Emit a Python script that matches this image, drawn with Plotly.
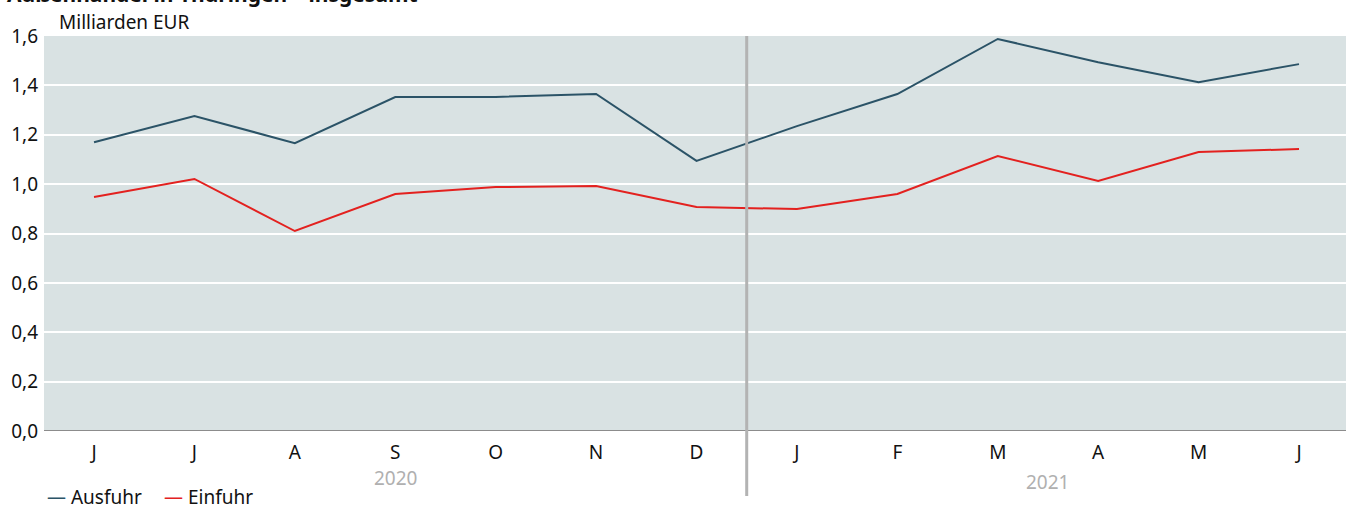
import plotly.graph_objects as go

months = ["J", "J", "A", "S", "O", "N", "D", "J", "F", "M", "A", "M", "J"]
years = ["2020", "2021"]
ausfuhr = [1.17, 1.276, 1.166, 1.353, 1.353, 1.365, 1.094, 1.235, 1.365, 1.588, 1.494, 1.413, 1.486]
einfuhr = [0.948, 1.021, 0.81, 0.96, 0.988, 0.992, 0.907, 0.899, 0.96, 1.114, 1.013, 1.13, 1.142]
yticks = [0.0, 0.2, 0.4, 0.6, 0.8, 1.0, 1.2, 1.4, 1.6]

C_AUS = "#2b5367"
C_EIN = "#e3211f"
FONT = "Noto Sans"
FS = 19

W, H = 1346, 506
L, R, T, B = 44, 0, 36, 75
PW, PH = W - L - R, H - T - B

x = list(range(len(months)))
fig = go.Figure()
fig.add_trace(go.Scatter(x=x, y=ausfuhr, mode="lines", name="Ausfuhr",
                         line=dict(color=C_AUS, width=2), showlegend=False))
fig.add_trace(go.Scatter(x=x, y=einfuhr, mode="lines", name="Einfuhr",
                         line=dict(color=C_EIN, width=2), showlegend=False))

fig.update_layout(
    width=W, height=H,
    margin=dict(l=L, r=R, t=T, b=B, autoexpand=False),
    paper_bgcolor="white", plot_bgcolor="#d9e2e3",
    font=dict(family=FONT, size=FS, color="#111111"),
    xaxis=dict(range=[-0.498, 12.468], tickmode="array", tickvals=x, ticktext=months,
               showgrid=False, zeroline=False, showline=False, ticks="",
               ticklabelstandoff=8,
               tickfont=dict(size=FS, color="#111111"), fixedrange=True, automargin=False),
    yaxis=dict(range=[0, 1.6], tickmode="array", tickvals=yticks,
               ticktext=[f"{v:.1f}".replace(".", ",") for v in yticks],
               showgrid=True, gridcolor="white", gridwidth=2,
               zeroline=False, showline=False, ticks="", ticklabelstandoff=5,
               tickfont=dict(size=FS, color="#111111"), fixedrange=True, automargin=False),
)

def px(xp):
    return (xp - L) / PW

def py(yp):
    return (H - B - yp) / PH

# bottom axis line
fig.add_shape(type="line", xref="paper", yref="y", x0=0, x1=1, y0=0, y1=0,
              line=dict(color="#8c8c8c", width=2))
# year separator
fig.add_shape(type="line", xref="x", yref="paper", x0=6.5, x1=6.5, y0=py(496), y1=1,
              line=dict(color="#b3b3b3", width=3))

# year labels
fig.add_annotation(x=3, y=py(463), xref="x", yref="paper", text=years[0], showarrow=False,
                   font=dict(size=FS, color="#b0b0b0"), yanchor="top")
fig.add_annotation(x=9.5, y=py(467), xref="x", yref="paper", text=years[1], showarrow=False,
                   font=dict(size=FS, color="#b0b0b0"), yanchor="top")

# unit label
fig.add_annotation(x=px(57), y=py(22), xref="paper", yref="paper", text="Milliarden EUR",
                   showarrow=False, xanchor="left", yanchor="middle",
                   font=dict(size=FS, color="#111111"))

# title (cut off at top of the page)
fig.add_annotation(x=px(5), y=py(10), xref="paper", yref="paper",
                   text="<b>Außenhandel in Thüringen – insgesamt</b>", showarrow=False,
                   xanchor="left", yanchor="bottom",
                   font=dict(size=21, color="#111111"))

# legend as annotations
fig.add_annotation(x=px(45), y=py(497), xref="paper", yref="paper",
                   text=f"<span style='color:{C_AUS}'>—</span> Ausfuhr", showarrow=False,
                   xanchor="left", yanchor="middle", font=dict(size=FS, color="#111111"))
fig.add_annotation(x=px(162), y=py(497), xref="paper", yref="paper",
                   text=f"<span style='color:{C_EIN}'>—</span> Einfuhr", showarrow=False,
                   xanchor="left", yanchor="middle", font=dict(size=FS, color="#111111"))

fig.write_html("out.html", config={"displayModeBar": False},
               post_script="document.body.style.margin='0';")
